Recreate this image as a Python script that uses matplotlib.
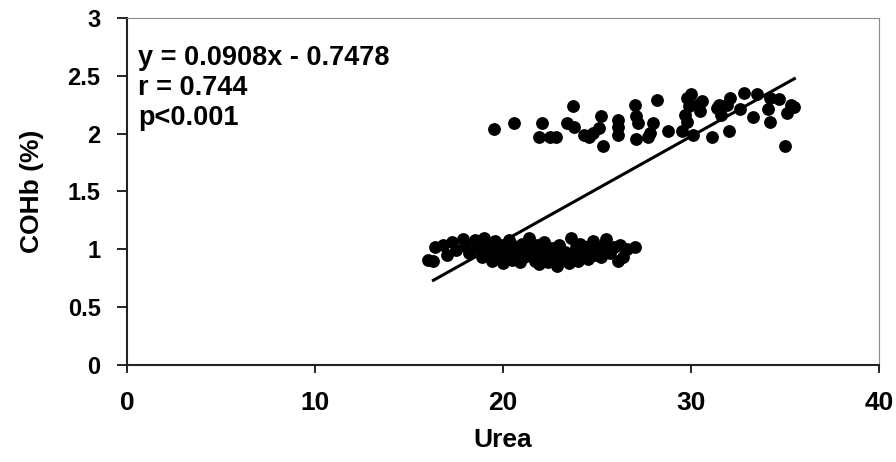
import numpy as np
from matplotlib import pyplot as plt

# Urea vs COHb (%) readings
low_urea = [16.0, 16.3, 16.4, 16.8, 17.0, 17.3, 17.5,
            17.9, 18.0, 18.2, 18.5, 18.6, 18.8, 18.9, 19.0,
            19.2, 19.3, 19.4, 19.6, 19.7, 19.8, 19.9, 20.0,
            20.1, 20.2, 20.3, 20.5, 20.6, 20.7, 20.9, 21.0,
            21.1, 21.3, 21.4, 21.5, 21.7, 21.8, 21.9, 22.0,
            22.2, 22.3, 22.4, 22.6, 22.7, 22.9, 23.0,
            23.1, 23.3, 23.5, 23.6, 23.7, 23.9, 24.0,
            24.1, 24.3, 24.5, 24.6, 24.8, 24.9,
            25.1, 25.2, 25.4, 25.5, 25.7, 25.9,
            26.1, 26.2, 26.4, 26.6, 27.0]
low_cohb = [0.91, 0.90, 1.02, 1.04, 0.95, 1.06, 0.99,
            1.09, 1.03, 0.97, 1.08, 1.01, 1.05, 0.93, 1.10,
            1.02, 0.96, 0.90, 1.07, 0.99, 0.93, 1.04, 0.88,
            1.01, 0.95, 1.08, 0.91, 1.03, 0.97, 0.89, 1.05,
            0.93, 1.00, 1.10, 0.96, 0.90, 1.04, 0.87, 0.98,
            1.06, 0.93, 0.89, 1.01, 0.95, 0.86, 1.04,
            0.91, 0.98, 0.88, 1.10, 0.94, 1.02, 0.90,
            1.05, 0.97, 0.92, 1.03, 1.07, 0.95,
            1.00, 0.93, 1.04, 1.09, 0.97, 1.02,
            0.90, 1.04, 0.93, 1.00, 1.02]

high_urea = [19.5, 20.6, 22.1, 21.9, 22.5, 22.8, 23.7, 23.4, 23.8, 24.3,
             24.6, 25.2, 25.1, 25.3, 24.8, 26.1, 26.1, 26.1, 27.0, 27.1,
             27.2, 27.1, 27.7, 28.0, 28.2, 27.8, 28.8, 29.8, 30.0, 29.7,
             29.8, 29.5, 30.1, 30.6, 30.3, 31.1, 31.4, 31.9, 32.0, 31.6,
             32.1, 32.8, 33.5, 34.2, 34.7, 35.3, 35.1, 33.3, 34.1, 34.2,
             32.6, 35.0, 35.5, 31.5, 30.5, 29.9]
high_cohb = [2.04, 2.09, 2.09, 1.97, 1.97, 1.97, 2.24, 2.09, 2.06, 1.99,
             1.97, 2.15, 2.05, 1.89, 2.01, 2.12, 1.99, 2.06, 2.25, 2.15,
             2.09, 1.95, 1.97, 2.09, 2.29, 2.01, 2.02, 2.31, 2.34, 2.16,
             2.10, 2.02, 1.99, 2.28, 2.25, 1.97, 2.22, 2.25, 2.02, 2.16,
             2.31, 2.35, 2.34, 2.31, 2.30, 2.25, 2.18, 2.14, 2.21, 2.10,
             2.21, 1.89, 2.23, 2.25, 2.20, 2.24]

# regression line
slope = 0.0908
intercept = -0.7478
fit_range = [16.3, 35.5]
stats_text = ['y = 0.0908x - 0.7478', 'r = 0.744', 'p<0.001']

x_ticks = [0, 10, 20, 30, 40]
y_ticks = [0, 0.5, 1, 1.5, 2, 2.5, 3]
y_tick_labels = ['0', '0.5', '1', '1.5', '2', '2.5', '3']

plt.rcParams['font.family'] = ['Liberation Sans', 'DejaVu Sans']
plt.rcParams['font.weight'] = 'bold'

fig = plt.figure(figsize=(8.96, 4.62), dpi=100)
ax = fig.add_axes([0.1417, 0.210, 0.8393, 0.751])

ax.scatter(low_urea + high_urea, low_cohb + high_cohb, s=85, c='black',
           marker='o', linewidths=0, zorder=3)

line_x = np.array(fit_range)
ax.plot(line_x, slope * line_x + intercept, color='black', lw=2.2, zorder=4)

ax.set_xlim(0, 40)
ax.set_ylim(0, 3)
ax.set_xticks(x_ticks)
ax.set_yticks(y_ticks)
ax.set_yticklabels(y_tick_labels)

ax.tick_params(axis='y', direction='out', length=7, width=1.2, pad=12, labelsize=17)
ax.tick_params(axis='x', direction='out', length=6, width=1.2, pad=13, labelsize=19)

for side in ['left', 'bottom']:
    ax.spines[side].set_color('#222222')
    ax.spines[side].set_linewidth(1.5)
for side in ['top', 'right']:
    ax.spines[side].set_color('#8a8a8a')
    ax.spines[side].set_linewidth(0.8)

ax.set_xlabel('Urea', fontsize=19, fontweight='bold', labelpad=9)
ax.set_ylabel('COHb (%)', fontsize=19, fontweight='bold', labelpad=17)

# stats block, one line per text, baselines in axes fraction
for txt, yy in zip(stats_text, [0.865, 0.778, 0.692]):
    ax.text(0.0146, yy, txt, transform=ax.transAxes, fontsize=19.5,
            fontweight='bold', va='baseline', ha='left')

fig.savefig('out.png', dpi=100)
